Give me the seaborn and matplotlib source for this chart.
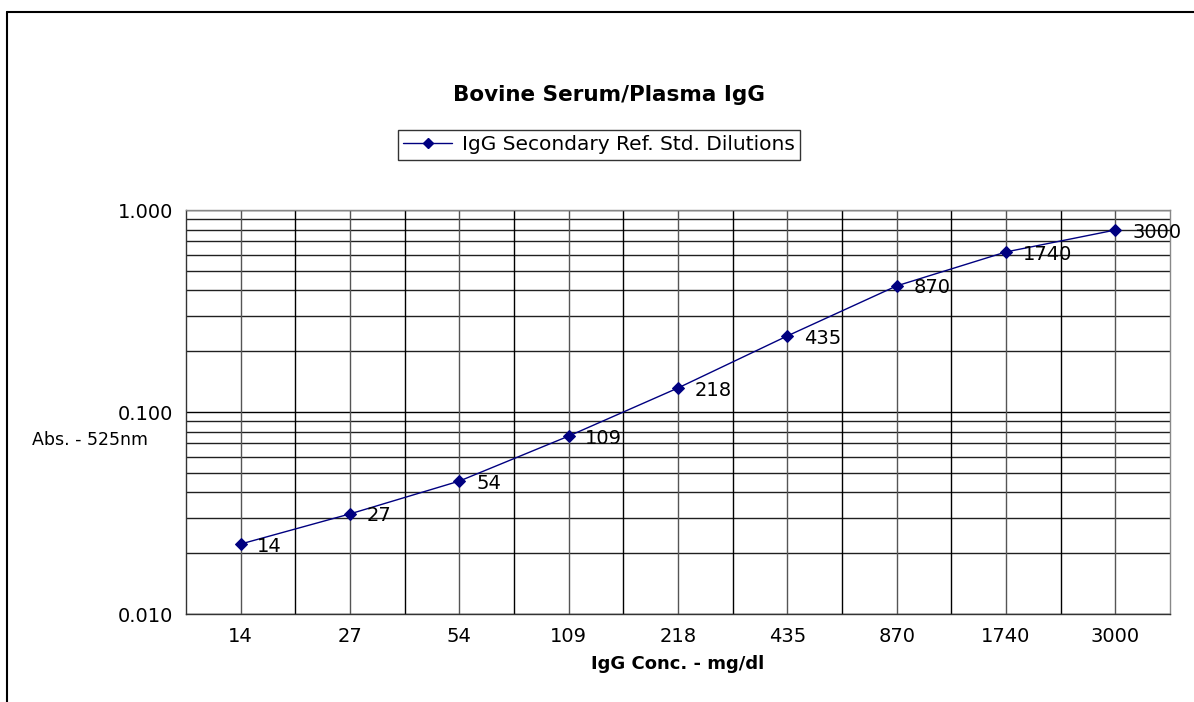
import numpy as np
import pandas as pd
import matplotlib.pyplot as plt
import seaborn as sns
from matplotlib.lines import Line2D
from matplotlib.ticker import FixedLocator, NullFormatter

conc_labels = ['14', '27', '54', '109', '218', '435', '870', '1740', '3000']
absorbance = [0.0222, 0.0313, 0.0455, 0.076, 0.1315, 0.238, 0.421, 0.62, 0.796]
series_name = 'IgG Secondary Ref. Std. Dilutions'

df = pd.DataFrame({'pos': np.arange(len(conc_labels)), 'conc': conc_labels,
                   'abs': absorbance, 'series': series_name})

sns.set_style('white')
plt.rcParams['font.family'] = ['DejaVu Sans']
plt.rcParams['text.color'] = 'black'

fig = plt.figure(figsize=(11.94, 7.02), dpi=100)
ax = fig.add_axes([186 / 1194, 1 - 614 / 702, 984 / 1194, 404 / 702])

navy = '#000080'
sns.lineplot(data=df, x='pos', y='abs', hue='series', palette=[navy], ax=ax,
             marker='D', markersize=6, markeredgecolor=navy, linewidth=1,
             legend=False, zorder=5)

ax.set_yscale('log')
ax.set_ylim(0.01, 1)
ax.set_xlim(-0.5, len(conc_labels) - 0.5)

# gridlines
ax.yaxis.set_major_locator(FixedLocator([0.01, 0.1, 1]))
minor = [m * d for d in (0.01, 0.1) for m in range(2, 10)]
ax.yaxis.set_minor_locator(FixedLocator(minor))
ax.yaxis.set_minor_formatter(NullFormatter())
ax.set_yticklabels(['0.010', '0.100', '1.000'])
ax.grid(True, which='major', axis='y', color='#000000', linewidth=1)
ax.grid(True, which='minor', axis='y', color='#202020', linewidth=1)
ax.tick_params(axis='y', which='major', direction='out', length=5, width=1,
               color='#333333', labelsize=14, labelcolor='black', pad=4)
ax.tick_params(axis='y', which='minor', length=0)

ax.set_xticks(range(len(conc_labels)))
ax.set_xticklabels(conc_labels)
ax.tick_params(axis='x', length=0, labelsize=14, labelcolor='black', pad=9)
for k in range(len(conc_labels)):
    ax.axvline(k, color='#555555', linewidth=1, zorder=1)
    if k > 0:
        ax.axvline(k - 0.5, color='#000000', linewidth=1, zorder=1)

for s in ['left', 'bottom']:
    ax.spines[s].set_color('#333333')
for s in ['right', 'top']:
    ax.spines[s].set_color('#888888')
for s in ax.spines.values():
    s.set_linewidth(1)

ax.set_xlabel('')
ax.set_ylabel('')

# data labels
for p, v, lab in zip(df['pos'], df['abs'], df['conc']):
    ax.annotate(lab, (p, v), xytext=(12, -1.5), textcoords='offset points',
                ha='left', va='center', fontsize=14, color='black', zorder=6)

fig.text(609 / 1194, 1 - 95 / 702, 'Bovine Serum/Plasma IgG', ha='center',
         va='center', fontsize=15.5, fontweight='bold')
fig.text(678 / 1194, 1 - 664 / 702, 'IgG Conc. - mg/dl', ha='center',
         va='center', fontsize=13, fontweight='bold')
fig.text(32 / 1194, 1 - 440 / 702, 'Abs. - 525nm', ha='left', va='center',
         fontsize=12.5)

handle = Line2D([], [], color=navy, marker='D', markersize=5, linewidth=1)
leg = fig.legend([handle], [series_name], loc='center',
                 bbox_to_anchor=(599 / 1194, 1 - 145 / 702), fontsize=14.5,
                 frameon=True, fancybox=False, handlelength=2.4,
                 borderpad=0.25, handletextpad=0.5)
leg.get_frame().set_edgecolor('black')
leg.get_frame().set_linewidth(1)

# outer chart border (top and left)
fig.add_artist(Line2D([7 / 1194, 1], [1 - 11.5 / 702, 1 - 11.5 / 702],
                      transform=fig.transFigure, color='black', linewidth=1.5))
fig.add_artist(Line2D([7 / 1194, 7 / 1194], [0, 1 - 11.5 / 702],
                      transform=fig.transFigure, color='black', linewidth=1.5))

fig.savefig('out.png', dpi=100, facecolor='white')
